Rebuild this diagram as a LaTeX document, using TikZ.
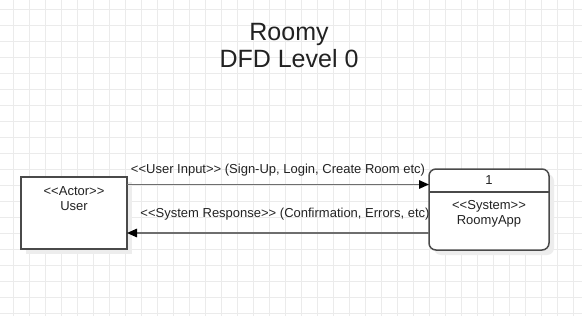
\documentclass[tikz,border=0pt]{standalone}
\usepackage{fontspec}
\defaultfontfeatures{}
\setmainfont{Liberation Sans}[Ligatures=ResetAll]
\usetikzlibrary{arrows.meta}
\definecolor{gridline}{HTML}{EBEBEB}
\definecolor{linegray}{HTML}{4A4A4A}
\definecolor{flowgray}{HTML}{6E6E6E}
\definecolor{ink}{HTML}{222222}
\definecolor{shade}{HTML}{EDEDED}
% guillemet-free double angle brackets
\newcommand\stL{<\kern0pt<\kern0pt}
\newcommand\stR{>\kern0pt>\kern0pt}
\begin{document}
\begin{tikzpicture}[x=1pt,y=-1pt,
  every node/.style={inner sep=0pt,outer sep=0pt,text=ink},
  entity/.style={draw=linegray,line width=1.5pt,fill=white,rectangle},
  process/.style={draw=linegray,line width=1.5pt,fill=white,rectangle,rounded corners=7pt},
  shadowbox/.style={fill=shade,draw=none,rectangle},
  small/.style={font=\fontsize{13}{15}\selectfont,align=center},
  flow/.style={draw=flowgray,line width=1.5pt,-{Triangle[length=10pt,width=8.5pt,color=black]}}]
\useasboundingbox (0,0) rectangle (582,316);
\fill[white] (0,0) rectangle (582,316);
% background grid
\foreach \gx in {13.5,29.5,...,582} \draw[gridline,line width=1pt] (\gx,0) -- (\gx,316);
\foreach \gy in {9,25,...,316} \draw[gridline,line width=1pt] (0,\gy) -- (582,\gy);
% title
\node[font=\fontsize{25}{27}\selectfont,align=center] (title) at (289,46) {Roomy\\DFD Level 0};
% drop shadows
\node[shadowbox,minimum width=106pt,minimum height=72pt] (usershadow) at (79,218) {};
\node[shadowbox,minimum width=120pt,minimum height=81pt,rounded corners=7pt] (appshadow) at (494,214.5) {};
% external entity
\node[entity,minimum width=106pt,minimum height=72pt] (user) at (74,213) {};
\node[small] (usertext) at (74,199) {\stL Actor\stR\\User};
% process
\node[process,minimum width=120pt,minimum height=81pt] (app) at (489,209.5) {};
\draw[linegray,line width=1.5pt] ([yshift=-23pt]app.north west) -- ([yshift=-23pt]app.north east);
\node[small] (appnum) at (489,180) {1};
\node[small] (apptext) at (489,213.5) {\stL System\stR\\RoomyApp};
% data flows
\coordinate (inrow) at (0,184.5);
\coordinate (outrow) at (0,233);
\draw[flow] (user.east |- inrow) -- (app.west |- inrow);
\draw[flow] (app.west |- outrow) -- (user.east |- outrow);
\node[small] (inlabel) at (278,170) {\stL User Input\stR{} (Sign-Up, Login, Create Room etc)};
\node[small] (outlabel) at (285,214) {\stL System Response\stR{} (Confirmation, Errors, etc)};
\end{tikzpicture}
\end{document}
